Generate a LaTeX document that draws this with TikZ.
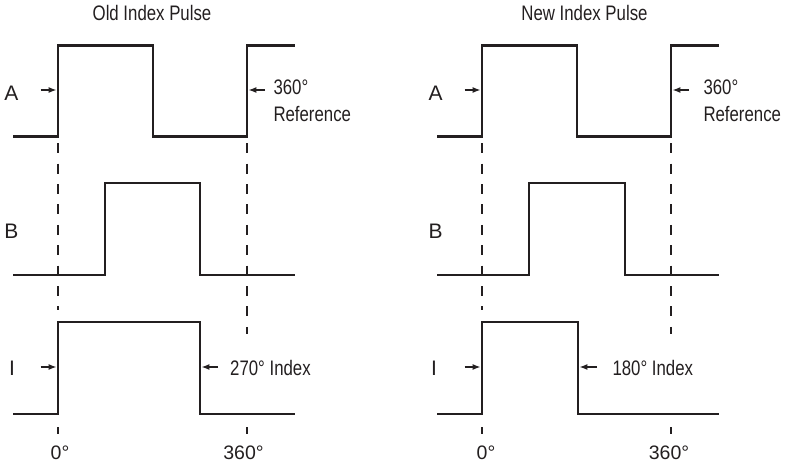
\documentclass[tikz,border=0pt]{standalone}
\usepackage{fontspec}
\setmainfont{Liberation Sans}[FakeStretch=0.8]
\newfontfamily\lblfont{Liberation Sans}
\usetikzlibrary{arrows.meta}
\definecolor{ink}{HTML}{231F20}
\tikzset{
  wave/.style={draw=ink, line width=2.4pt, line join=miter},
  guide/.style={draw=ink, line width=2.1pt, dash pattern=on 10pt off 10.4pt},
  tick/.style={draw=ink, line width=2.1pt},
  pointer/.style={draw=ink, line width=1.3pt, -{Latex[length=8pt,width=6pt]}},
  note/.style={inner sep=0pt, text=ink, font=\fontsize{21}{24}\selectfont},
  sig/.style={inner sep=0pt, text=ink, font=\lblfont\fontsize{21}{24}\selectfont},
  deg/.style={inner sep=0pt, text=ink, font=\lblfont\fontsize{19.5}{22}\selectfont, anchor=base},
}
\begin{document}
\begin{tikzpicture}[x=1pt,y=-1pt]
\useasboundingbox (0,0) rectangle (785,465);

% ---------------- Left panel: Old Index Pulse ----------------
\node[note, anchor=base] (t1) at (152,20.7) {Old Index Pulse};
% A
\draw[wave] (13,136.7) -- (58,136.7) -- (58,45.5) -- (153,45.5) -- (153,136.7) -- (247,136.7) -- (247,45.5) -- (295,45.5);
% B
\draw[wave] (13,275.3) -- (105,275.3) -- (105,183.3) -- (200,183.3) -- (200,275.3) -- (295,275.3);
% I
\draw[wave] (13,414) -- (58,414) -- (58,322) -- (200,322) -- (200,414) -- (295,414);
% guides
\coordinate (g1a) at (58,143.3); \coordinate (g1b) at (58,310);
\coordinate (g2a) at (247,143.3); \coordinate (g2b) at (247,334);
\draw[guide] (g1a) -- (g1b);
\draw[guide] (g2a) -- (g2b);
\coordinate (k1a) at (58,427); \coordinate (k1b) at (58,434);
\coordinate (k2a) at (247,427); \coordinate (k2b) at (247,434);
\draw[tick] (k1a) -- (k1b);
\draw[tick] (k2a) -- (k2b);
% arrows
\coordinate (p1s) at (40.5,90); \coordinate (p1e) at (56.6,90);
\coordinate (p2s) at (265,90); \coordinate (p2e) at (248.4,90);
\coordinate (p3s) at (40.5,367); \coordinate (p3e) at (56.6,367);
\coordinate (p4s) at (218,367); \coordinate (p4e) at (201.4,367);
\draw[pointer] (p1s) -- (p1e);
\draw[pointer] (p2s) -- (p2e);
\draw[pointer] (p3s) -- (p3e);
\draw[pointer] (p4s) -- (p4e);
% labels
\node[sig] (la1) at (11.5,93.5) {A};
\node[sig] (lb1) at (11.5,231.5) {B};
\node[sig] (li1) at (12,368.5) {I};
\node[note, anchor=base west] (r1a) at (273.3,95) {360°};
\node[note, anchor=base west] (r1b) at (273.3,122) {Reference};
\node[note, anchor=base west] (x1) at (230,375) {270° Index};
\node[deg] (d1a) at (60,459) {0°};
\node[deg] (d1b) at (243.5,459) {360°};

% ---------------- Right panel: New Index Pulse ----------------
\node[note, anchor=base] (t2) at (584.5,20.7) {New Index Pulse};
% A
\draw[wave] (437,136.7) -- (482,136.7) -- (482,45.5) -- (577,45.5) -- (577,136.7) -- (671,136.7) -- (671,45.5) -- (719,45.5);
% B
\draw[wave] (437,275.3) -- (529,275.3) -- (529,183.3) -- (625,183.3) -- (625,275.3) -- (719,275.3);
% I
\draw[wave] (437,414) -- (482,414) -- (482,322) -- (578,322) -- (578,414) -- (719,414);
% guides
\coordinate (g3a) at (482,143.3); \coordinate (g3b) at (482,310);
\coordinate (g4a) at (671,143.3); \coordinate (g4b) at (671,334);
\draw[guide] (g3a) -- (g3b);
\draw[guide] (g4a) -- (g4b);
\coordinate (k3a) at (482,427); \coordinate (k3b) at (482,434);
\coordinate (k4a) at (671,427); \coordinate (k4b) at (671,434);
\draw[tick] (k3a) -- (k3b);
\draw[tick] (k4a) -- (k4b);
% arrows
\coordinate (q1s) at (464.5,90); \coordinate (q1e) at (480.6,90);
\coordinate (q2s) at (689,90); \coordinate (q2e) at (672.4,90);
\coordinate (q3s) at (464.5,367); \coordinate (q3e) at (480.6,367);
\coordinate (q4s) at (597,367); \coordinate (q4e) at (579.4,367);
\draw[pointer] (q1s) -- (q1e);
\draw[pointer] (q2s) -- (q2e);
\draw[pointer] (q3s) -- (q3e);
\draw[pointer] (q4s) -- (q4e);
% labels
\node[sig] (la2) at (435.5,93.5) {A};
\node[sig] (lb2) at (435.5,231.5) {B};
\node[sig] (li2) at (434,368.5) {I};
\node[note, anchor=base west] (r2a) at (703.3,95) {360°};
\node[note, anchor=base west] (r2b) at (703.3,122) {Reference};
\node[note, anchor=base west] (x2) at (612.3,375) {180° Index};
\node[deg] (d2a) at (486,459) {0°};
\node[deg] (d2b) at (669,459) {360°};
\end{tikzpicture}
\end{document}
